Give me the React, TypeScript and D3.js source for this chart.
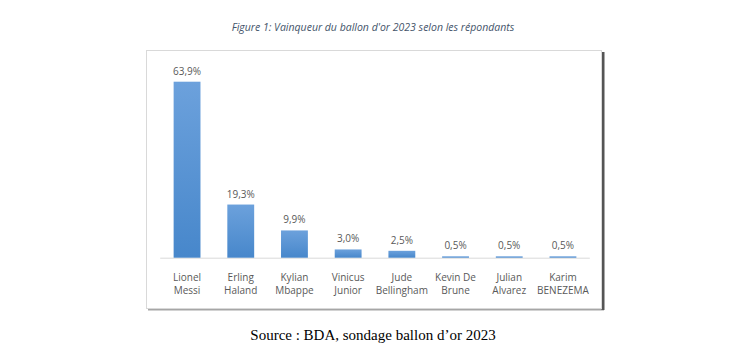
import React from "react";
import * as d3 from "d3";

const categories: string[][] = [
  ["Lionel", "Messi"],
  ["Erling", "Haland"],
  ["Kylian", "Mbappe"],
  ["Vinicus", "Junior"],
  ["Jude", "Bellingham"],
  ["Kevin De", "Brune"],
  ["Julian", "Alvarez"],
  ["Karim", "BENEZEMA"],
];
const values: number[] = [63.9, 19.3, 9.9, 3.0, 2.5, 0.5, 0.5, 0.5];
const valueLabels: string[] = ["63,9%", "19,3%", "9,9%", "3,0%", "2,5%", "0,5%", "0,5%", "0,5%"];
const title = "Figure 1: Vainqueur du ballon d'or 2023 selon les répondants";
const source = "Source : BDA, sondage ballon d\u2019or 2023";

const W = 729;
const H = 356;

export default function App() {
  const keys = categories.map((c) => c.join(" "));
  const x = d3.scaleBand<string>().domain(keys).range([160.2, 589.8]).paddingInner(0.5).paddingOuter(0.25);
  const y = d3.scaleLinear().domain([0, 63.9]).range([257.7, 81.7]);
  const labelFont = "'Open Sans', 'Noto Sans', sans-serif";

  return (
    <div style={{ position: "fixed", left: 0, top: 0, width: W, height: H, background: "#fff" }}>
      <svg width={W} height={H} viewBox={`0 0 ${W} ${H}`}>
        <defs>
          <linearGradient id="barGrad" x1="0" y1="0" x2="0" y2="1">
            <stop offset="0%" stopColor="#6CA1DC" />
            <stop offset="100%" stopColor="#4787CB" />
          </linearGradient>
        </defs>
        <rect x={0} y={0} width={W} height={H} fill="#fff" />
        <text
          x={373}
          y={30.5}
          textAnchor="middle"
          fontFamily={labelFont}
          fontStyle="italic"
          fontSize={10.5}
          fill="#44546A"
        >
          {title}
        </text>
        {/* frame shadow */}
        <rect x={148} y={307.5} width={456} height={3} fill="#A6A6A6" />
        <rect x={601.5} y={52} width={3} height={258} fill="#555" />
        {/* frame */}
        <rect x={146.5} y={50.5} width={455} height={258} fill="#fff" stroke="#D9D9D9" strokeWidth={1} />
        {/* baseline */}
        <line x1={x.range()[0]} x2={x.range()[1]} y1={y(0) + 0.5} y2={y(0) + 0.5} stroke="#D9D9D9" strokeWidth={1} />
        {values.map((v, i) => {
          const bx = x(keys[i]) as number;
          const bw = x.bandwidth();
          const top = y(v);
          const h = Math.max(y(0) - top, 1);
          return (
            <g key={keys[i]}>
              <rect x={bx} y={y(0) - h} width={bw} height={h} fill="url(#barGrad)" />
              <text
                x={bx + bw / 2}
                y={y(0) - h - 7}
                textAnchor="middle"
                fontFamily={labelFont}
                fontSize={10}
                fill="#595959"
              >
                {valueLabels[i]}
              </text>
              {categories[i].map((line, j) => (
                <text
                  key={j}
                  x={bx + bw / 2}
                  y={281 + j * 12.7}
                  textAnchor="middle"
                  fontFamily={labelFont}
                  fontSize={10}
                  fill="#595959"
                >
                  {line}
                </text>
              ))}
            </g>
          );
        })}
        <text
          x={373}
          y={340}
          textAnchor="middle"
          fontFamily="'Liberation Serif', 'Times New Roman', serif"
          fontSize={15}
          fill="#000"
        >
          {source}
        </text>
      </svg>
    </div>
  );
}
